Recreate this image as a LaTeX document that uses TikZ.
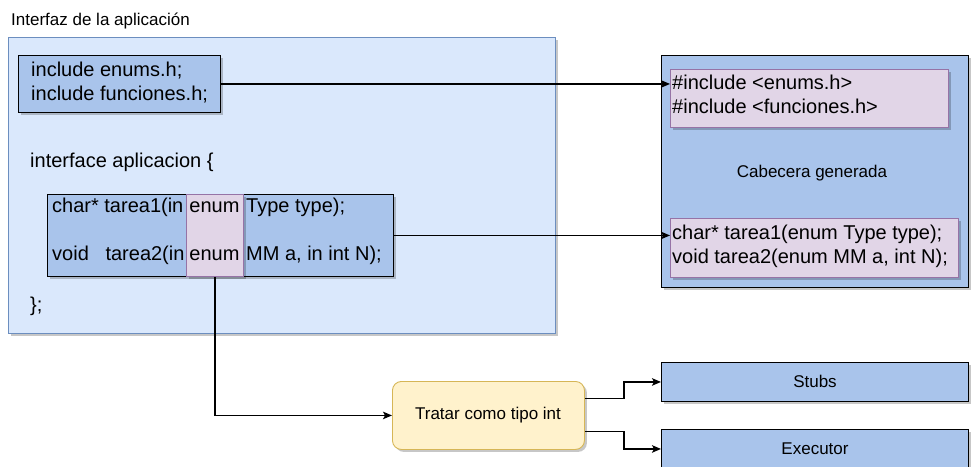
\documentclass[tikz,border=0pt]{standalone}
\usepackage{fontspec}
\setmainfont{Liberation Sans}
\usetikzlibrary{arrows.meta,shadows}

\definecolor{contfill}{HTML}{DAE8FC}
\definecolor{contline}{HTML}{6C8EBF}
\definecolor{boxfill}{HTML}{A9C4EB}
\definecolor{pinkfill}{HTML}{E1D5E7}
\definecolor{pinkline}{HTML}{9673A6}
\definecolor{notefill}{HTML}{FFF2CC}
\definecolor{noteline}{HTML}{D6B656}

\tikzset{
  shade/.style={drop shadow={shadow xshift=2.5pt,shadow yshift=-2.5pt,fill=black,opacity=0.22}},
  region/.style={draw=contline, fill=contfill, line width=0.9pt, anchor=north west, inner sep=0pt, shade},
  codebox/.style={draw=black, fill=boxfill, line width=0.9pt, anchor=north west, inner sep=0pt, shade},
  enumbox/.style={draw=pinkline, fill=pinkfill, line width=0.9pt, anchor=north west, inner sep=0pt, shade},
  notebox/.style={draw=noteline, fill=notefill, line width=0.9pt, rounded corners=9pt, anchor=north west, inner sep=0pt, shade},
  code/.style={font=\fontsize{20}{24}\selectfont, anchor=base west, inner sep=0pt},
  codemid/.style={font=\fontsize{20}{24}\selectfont, anchor=base, inner sep=0pt},
  label/.style={font=\fontsize{17}{20}\selectfont, inner sep=0pt},
  link/.style={line width=1.3pt, -{Stealth[length=9pt,width=7.5pt,inset=2pt]}}
}

\begin{document}
\begin{tikzpicture}[x=1pt,y=-1pt]
\clip (0,0) rectangle (972,466);

% application interface region
\node[label, anchor=base west] (apptitle) at (11,25) {Interfaz de la aplicación};
\node[region, minimum width=547pt, minimum height=296pt] (app) at (8,37) {};

\node[codebox, minimum width=202pt, minimum height=57pt] (inc) at (18,55) {};
\node[code] (inc1) at (31,76) {include enums.h;};
\node[code] (inc2) at (31,100) {include funciones.h;};

\node[code] (iface) at (30,167) {interface aplicacion \{};
\node[code] (iclose) at (30,311) {\};};

\node[codebox, minimum width=346pt, minimum height=82pt] (funcs) at (47,194) {};
\node[enumbox, minimum width=57pt, minimum height=82pt] (enum) at (186,194) {};
\node[code] (f1a) at (52,212) {char* tarea1(in};
\node[code] (f2a) at (52,260) {void~~~tarea2(in};
\node[codemid] (f1b) at (214.5,212) {enum};
\node[codemid] (f2b) at (214.5,260) {enum};
\node[code] (f1c) at (246,212) {Type type);};
\node[code] (f2c) at (246,260) {MM a, in int N);};

% generated header
\node[codebox, minimum width=307pt, minimum height=232pt] (hdr) at (661,55) {};
\node[enumbox, minimum width=278pt, minimum height=58pt] (hinc) at (670,69) {};
\node[code] (h1) at (672,89) {\#include <enums.h>};
\node[code] (h2) at (672,113) {\#include <funciones.h>};
\node[label] (hdrlabel) at (812,173) {Cabecera generada};
\node[enumbox, minimum width=288pt, minimum height=59pt] (hfun) at (670,218) {};
\node[code] (h3) at (672,239) {char* tarea1(enum Type type);};
\node[code] (h4) at (672,263) {void tarea2(enum MM a, int N);};

% enum handling
\node[notebox, minimum width=192pt, minimum height=68pt] (treat) at (392,381) {};
\node[label] (treatlabel) at (488,415) {Tratar como tipo int};
\node[codebox, minimum width=307pt, minimum height=39pt] (stubs) at (661,362) {};
\node[label] (stubslabel) at (815,381.5) {Stubs};
\node[codebox, minimum width=307pt, minimum height=39pt] (exec) at (661,429) {};
\node[label] (execlabel) at (815,448.5) {Executor};

% connectors
\draw[link] (inc.east) -- (inc.east -| hinc.west);
\draw[link] (funcs.east) -- (funcs.east -| hfun.west);
\draw[link] (enum.south) |- (treat.west);
\draw[link] ([yshift=17pt]treat.east) -- ++(39,0) |- (stubs.west);
\draw[link] ([yshift=-16pt]treat.east) -- ++(39,0) |- (exec.west);
\end{tikzpicture}
\end{document}
